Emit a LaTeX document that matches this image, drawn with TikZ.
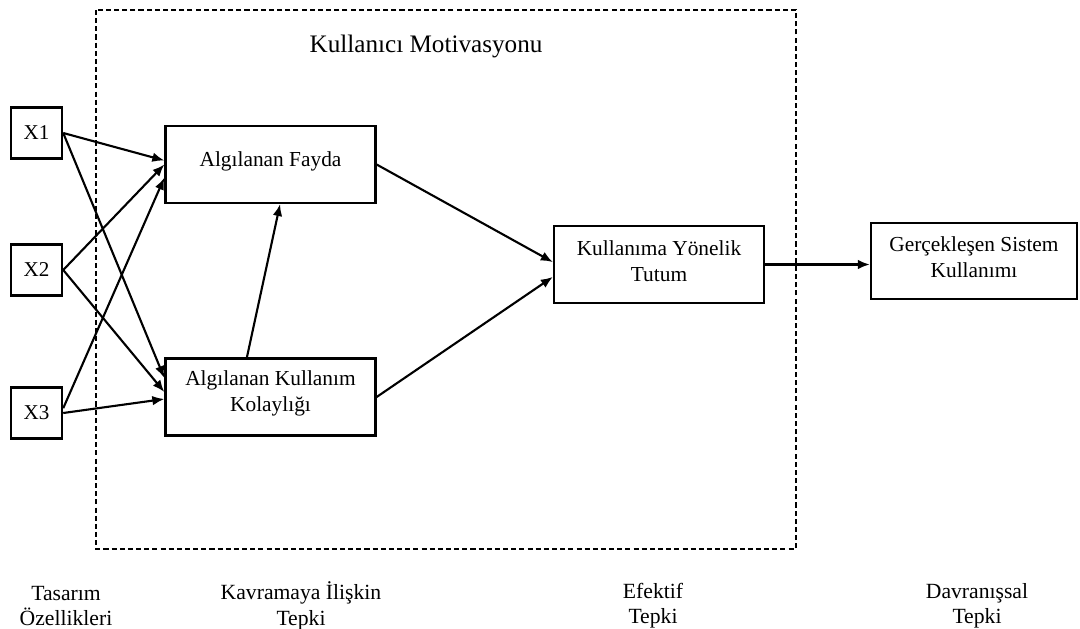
\documentclass[tikz,border=0pt]{standalone}
\usepackage{fontspec}
\setmainfont{Liberation Serif}
\usetikzlibrary{arrows.meta,calc}
\begin{document}
\begin{tikzpicture}[x=0.025cm,y=-0.025cm,
  box/.style={draw,line width=1.6pt,inner sep=0pt},
  xbox/.style={box,minimum width=1.28cm,minimum height=1.28cm,font=\fontsize{15}{18}\selectfont},
  bigbox/.style={box,minimum width=5.25cm,minimum height=1.92cm},
  txt/.style={align=center,inner sep=0pt,font=\fontsize{15.2}{18.5}\selectfont},
  lbl/.style={align=center,inner sep=0pt,font=\fontsize{15.4}{18}\selectfont},
  arr/.style={line width=1.5pt,-{Latex[length=0.3cm,width=0.24cm]}},
  frame/.style={line width=1.1pt,dash pattern=on 3.6pt off 2.2pt}
]
\useasboundingbox (0,0) rectangle (1080,629);
% dashed frame
\draw[frame] (96,10) rectangle (796,549);
\node[inner sep=0pt,font=\fontsize{17.9}{21}\selectfont] (title) at (426,46) {Kullanıcı Motivasyonu};
% input boxes
\node[xbox] (X1) at (36.5,133) {X1};
\node[xbox] (X2) at (36.5,270) {X2};
\node[xbox] (X3) at (36.5,413) {X3};
% main boxes
\node[bigbox] (AF) at (270.5,164.5) {};
\node[txt] (AFt) at ([yshift=0.09cm]AF.center) {Algılanan Fayda};
\node[bigbox] (AK) at (270.5,397) {};
\node[txt] (AKt) at ([yshift=0.09cm]AK.center) {Algılanan Kullanım\\Kolaylığı};
\node[bigbox] (KYT) at (659,264.5) {};
\node[txt] (KYTt) at ([yshift=0.09cm]KYT.center) {Kullanıma Yönelik\\Tutum};
\node[box,minimum width=5.15cm,minimum height=1.9cm] (GSK) at (974,261) {};
\node[txt] (GSKt) at ([yshift=0.09cm]GSK.center) {Gerçekleşen Sistem\\Kullanımı};
% arrows from inputs
\draw[arr] (X1.east) -- ([yshift=0.1cm]AF.west);
\draw[arr] (X1.east) -- ([yshift=0.475cm]AK.west);
\draw[arr] (X2.east) -- (AF.west);
\draw[arr] (X2.east) -- ([yshift=0.125cm]AK.west);
\draw[arr] ([yshift=0.12cm]X3.east) -- ([yshift=-0.33cm]AF.west);
\draw[arr] (X3.east) -- ([yshift=-0.05cm]AK.west);
% internal arrows
\draw[arr] ([xshift=-0.59cm]AK.north) -- ([xshift=0.24cm]AF.south);
\draw[arr] (AF.east) -- ([yshift=0.06cm]KYT.west);
\draw[arr] (AK.east) -- ([yshift=-0.31cm]KYT.west);
\draw[arr] (KYT.east) -- (KYT.east -| GSK.west);
% bottom labels
\node[lbl] (L1) at (66,606) {Tasarım\\Özellikleri};
\node[lbl] (L2) at (301,606) {Kavramaya İlişkin\\Tepki};
\node[lbl] (L3) at (653,606) {Efektif\\Tepki};
\node[lbl] (L4) at (977,606) {Davranışsal\\Tepki};
\end{tikzpicture}
\end{document}
